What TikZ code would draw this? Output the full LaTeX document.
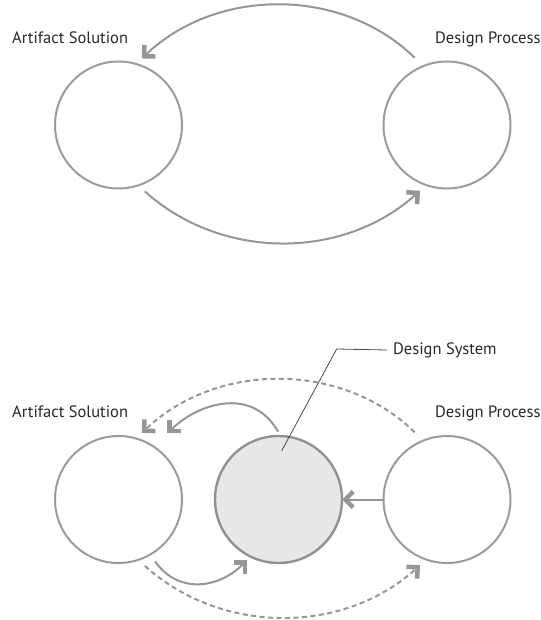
\documentclass[tikz,border=0pt]{standalone}
\usepackage{fontspec}
\setmainfont{PT Sans}
\usetikzlibrary{positioning,arrows.meta}

\definecolor{ringgray}{RGB}{155,155,155}
\definecolor{flowgray}{RGB}{150,150,150}
\definecolor{sysgray}{RGB}{145,145,145}
\definecolor{sysfill}{RGB}{230,231,232}
\definecolor{txtgray}{RGB}{40,40,40}

\tikzset{
  ring/.style={circle, draw=ringgray, line width=2pt, minimum size=127pt, inner sep=0pt, outer sep=0pt},
  sysring/.style={ring, draw=sysgray, fill=sysfill, line width=2.4pt},
  lbl/.style={font=\fontsize{16.5}{19}\selectfont, text=txtgray, inner sep=0pt, text height=12pt, text depth=3.5pt},
  flow/.style={draw=flowgray, line width=2pt, -{Straight Barb[sharp, length=8pt, width=16pt, line width=4.5pt]}},
  dflow/.style={flow, dash pattern=on 5pt off 3.5pt},
  leader/.style={draw=txtgray!85, line width=0.8pt},
}

\begin{document}
\begin{tikzpicture}[x=1pt, y=1pt]
\useasboundingbox (0,0) rectangle (540,-620);

% Define nodes
\node[ring] (as) at (118.5,-125) {};
\node[ring, right=201.5pt of as] (dp) {};
\node[lbl, above=14.5pt of as, anchor=south west, xshift=-106.5pt] (aslab) {Artifact Solution};
\node[lbl, above=14.5pt of dp, anchor=south west, xshift=-12pt] (dplab) {Design Process};

\node[ring, below=247.5pt of as] (as2) {};
\node[sysring, right=33pt of as2] (ds) {};
\node[ring, right=41.5pt of ds] (dp2) {};
\node[lbl, above=14.5pt of as2, anchor=south west, xshift=-106.5pt] (aslab2) {Artifact Solution};
\node[lbl, above=14.5pt of dp2, anchor=south west, xshift=-12pt] (dplab2) {Design Process};
\node[lbl, anchor=west] (dslab) at (393,-350) {Design System};

% Connect the nodes
\draw[flow, shorten <=12pt, shorten >=8pt] (dp.112) to[bend right=44] (as.74);
\draw[flow, shorten <=9pt, shorten >=8.5pt] (as.-72) to[bend right=42] (dp.-109);

\draw[dflow, shorten <=12pt, shorten >=8pt] (dp2.112) to[bend right=44] (as2.74);
\draw[dflow, shorten <=9pt, shorten >=8.5pt] (as2.-72) to[bend right=42] (dp2.-109);
\draw[flow, shorten <=5pt, shorten >=19pt] (ds.88) to[out=120, in=45, looseness=1.2] (as2.56);
\draw[flow, shorten <=8.5pt, shorten >=5pt] (as2.-60) to[out=-55, in=-135, looseness=1.2] (ds.-116);
\draw[flow] (dp2) -- (ds);

% Leader
\coordinate (dspt) at ([shift={(3.2,48.8)}]ds.center);
\coordinate (knee) at ([shift={(58.2,150.5)}]ds.center);
\draw[leader] (dspt) -- (knee) -- ([xshift=-6pt]dslab.west);

\end{tikzpicture}
\end{document}
